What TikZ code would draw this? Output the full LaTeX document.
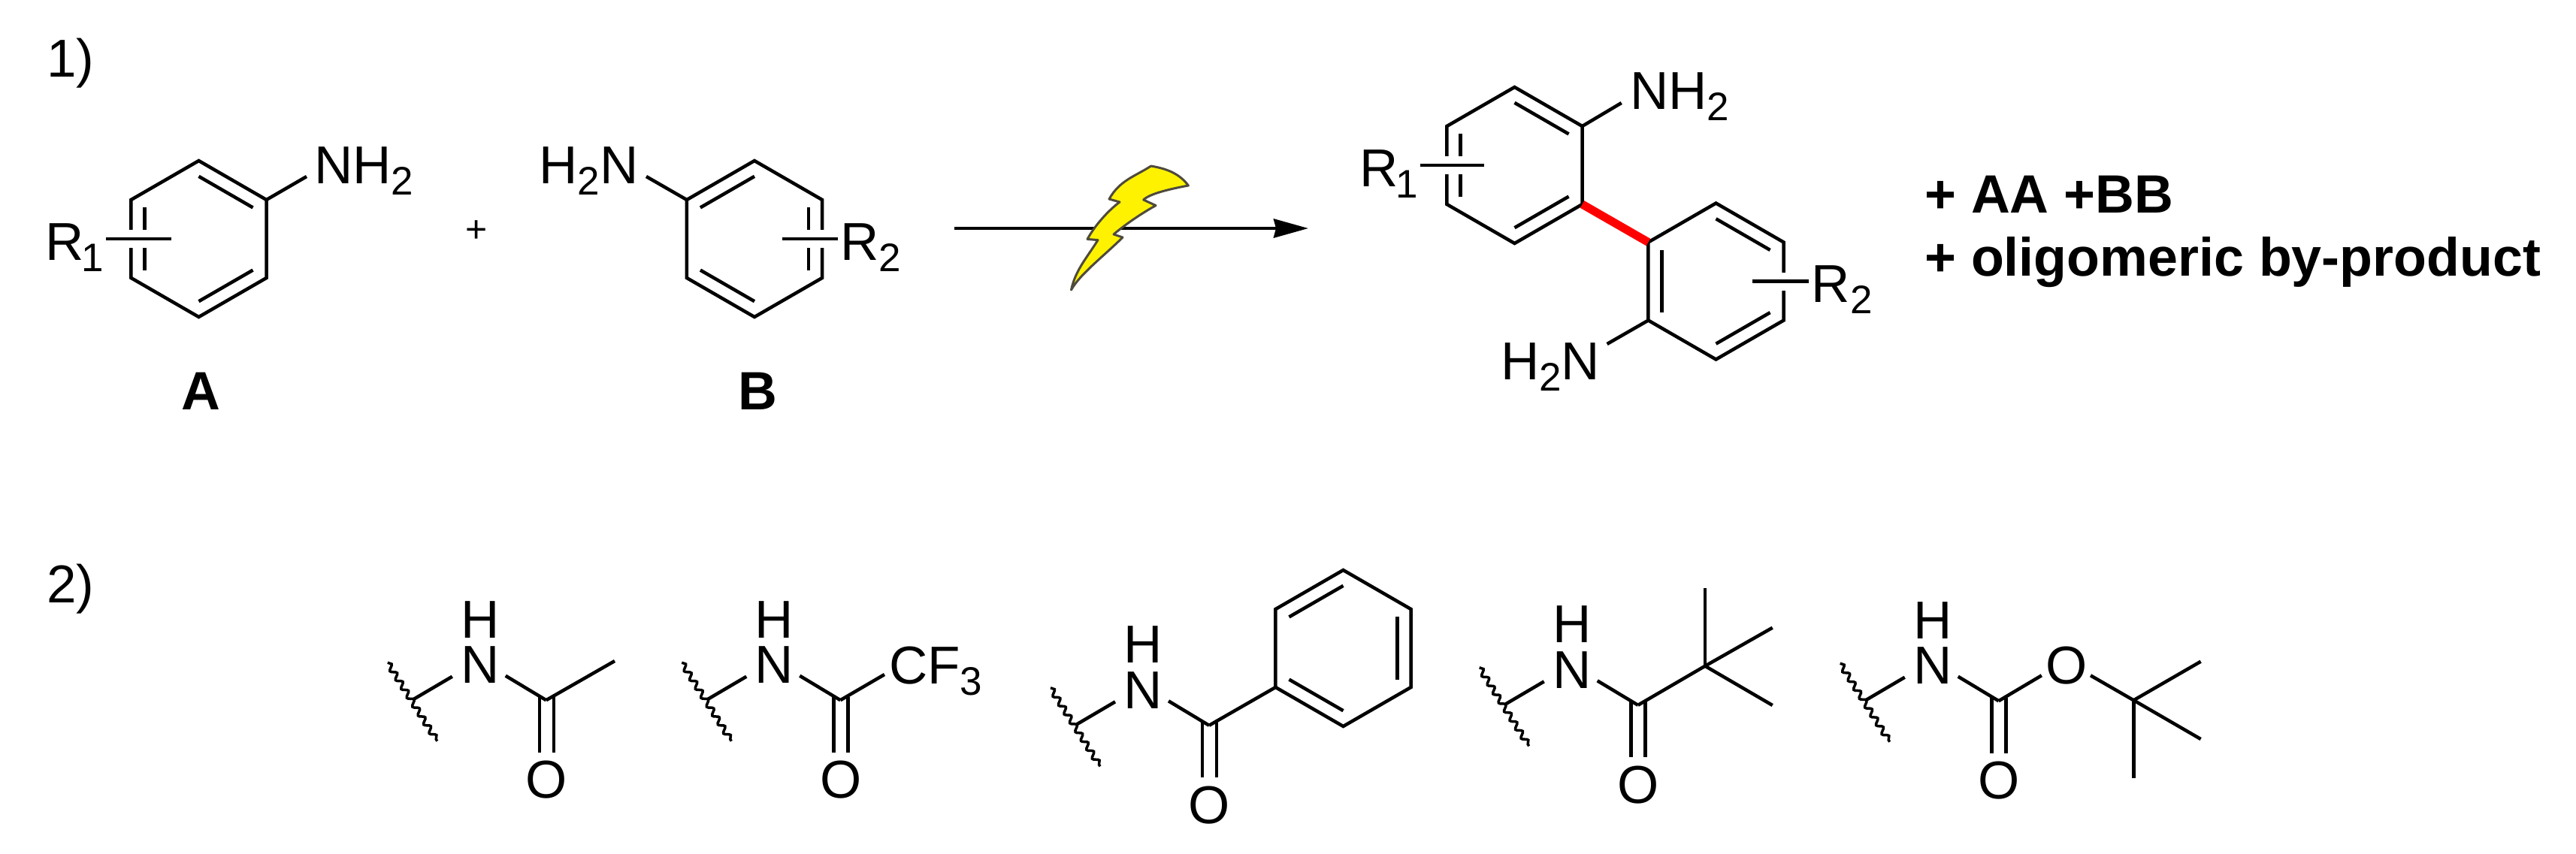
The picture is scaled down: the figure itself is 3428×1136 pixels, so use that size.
\documentclass[tikz,border=0pt]{standalone}
\usepackage{fontspec}
\setmainfont{Liberation Sans}
\usetikzlibrary{calc,arrows.meta,decorations.pathmorphing}
\newcommand{\sbs}[1]{\raisebox{-15pt}{\fontsize{53}{60}\selectfont #1}}
\begin{document}
\begin{tikzpicture}[x=1pt,y=-1pt]
        \tikzset{bond/.style={draw,line width=4.5pt},
            thickbond/.style={draw=red,line width=11pt},
            halo/.style={draw=white,line width=24pt},
            atom/.style={inner sep=0pt,anchor=base west,font=\fontsize{71}{80}\selectfont},
            midatom/.style={atom,anchor=base},
            stackatom/.style={atom,anchor=south,align=center,font=\fontsize{71}{60.5}\selectfont},
            boldtext/.style={atom,font=\fontsize{71.8}{80}\selectfont\bfseries},
            benzene/.pic={
                \foreach \i in {1,...,6}
                    \coordinate (\i) at ({60*\i-150}:104);
                \coordinate (-c) at (0,0);
                \draw[bond] (1) -- (2) -- (3) -- (4) -- (5) -- (6) -- cycle;
            },
            amide/.pic={
                \coordinate (-j) at (0,0);
                \coordinate (-w1) at (-35,-48.5);
                \coordinate (-w2) at (31,56);
                \coordinate (-b1) at (51,-30);
                \coordinate (-b2) at (122,-31);
                \coordinate (-c) at (176,1.5);
                \draw[line width=3.5pt,decorate,decoration={snake,segment length=14pt,amplitude=3.5pt}] (-w1) -- (-w2);
                \node[stackatom] (-n) at (88,-21) {H\\N};
                \node[midatom] (-o) at (176.5,132) {O};
                \draw[bond] (-j) -- (-b1);
                \draw[bond] (-b2) -- (-c);
                \draw[bond] (167,-3) -- (167,71);
                \draw[bond] (186,-3) -- (186,71);
            }}
        \useasboundingbox (0,0) rectangle (3428,1136);
        \node[atom] (one) at (62,102.5) {1)};
        \node[atom] (two) at (62,802) {2)};
        % reactant A
        \pic (a) at (264.5,318) {benzene};
        \draw[bond] ($(a-c)!.8!(a1)$) -- ($(a-c)!.8!(a2)$);
        \draw[bond] ($(a-c)!.8!(a3)$) -- ($(a-c)!.8!(a4)$);
        \draw[bond] ($(a-c)!.8!(a5)$) -- ($(a-c)!.8!(a6)$);
        \node[atom] (nhA) at (418,244) {NH\sbs{2}};
        \coordinate (nhAe) at (408,235);
        \draw[bond] (a2) -- (nhAe);
        \node[atom] (rA) at (60.5,346) {R\kern-3pt\sbs{1}};
        \coordinate (rAs) at (141,318);
        \coordinate (rAe) at (228,318);
        \draw[halo] (168,318) -- (200,318);
        \draw[bond] (rAs) -- (rAe);
        \node[midatom,font=\fontsize{50}{60}\selectfont] (plus) at (634,322) {+};
        \node[boldtext,anchor=base] (lblA) at (267,545) {A};
        % reactant B
        \pic (b) at (1004,318) {benzene};
        \draw[bond] ($(b-c)!.8!(b1)$) -- ($(b-c)!.8!(b6)$);
        \draw[bond] ($(b-c)!.8!(b4)$) -- ($(b-c)!.8!(b5)$);
        \draw[bond] ($(b-c)!.8!(b2)$) -- ($(b-c)!.8!(b3)$);
        \node[atom] (nhB) at (717.5,244) {H\sbs{2}N};
        \coordinate (nhBe) at (860,235);
        \draw[bond] (b6) -- (nhBe);
        \node[atom] (rB) at (1118.5,346) {R\sbs{2}};
        \coordinate (rBs) at (1041,318);
        \coordinate (rBe) at (1115,318);
        \draw[halo] (1068,318) -- (1100,318);
        \draw[bond] (rBs) -- (rBe);
        \node[boldtext,anchor=base] (lblB) at (1008,545) {B};
        % arrow with flash
        \coordinate (arrowL) at (1270,304);
        \coordinate (arrowR) at (1741,304);
        \draw[line width=4.5pt,-{Stealth[length=46pt,width=25pt,inset=3pt]}] (arrowL) -- (arrowR);
        \draw[draw=black!80!yellow,fill=yellow,line width=3pt,line join=round]
            (1531.7,221) .. controls (1555,225) and (1570,232) .. (1581.4,247)
            .. controls (1555,252) and (1530,258) .. (1521.7,266)
            -- (1538,273.6) .. controls (1512,288) and (1490,305) .. (1482,312)
            -- (1494,316) .. controls (1470,340) and (1437,365) .. (1425.5,386)
            .. controls (1431,360) and (1445,345) .. (1461,319.6)
            -- (1447,318.4) .. controls (1457,300) and (1475,280) .. (1490,269)
            -- (1476,265) .. controls (1490,240) and (1510,235) .. cycle;
        % product
        \pic (p) at (2015.5,220) {benzene};
        \pic (q) at (2283.5,374.5) {benzene};
        \draw[bond] ($(p-c)!.8!(p1)$) -- ($(p-c)!.8!(p2)$);
        \draw[bond] ($(p-c)!.8!(p3)$) -- ($(p-c)!.8!(p4)$);
        \draw[bond] ($(p-c)!.8!(p5)$) -- ($(p-c)!.8!(p6)$);
        \draw[bond] ($(q-c)!.8!(q1)$) -- ($(q-c)!.8!(q2)$);
        \draw[bond] ($(q-c)!.8!(q3)$) -- ($(q-c)!.8!(q4)$);
        \draw[bond] ($(q-c)!.8!(q5)$) -- ($(q-c)!.8!(q6)$);
        \draw[thickbond] (p3) -- (q6);
        \node[atom] (nhP) at (2169,145.5) {NH\sbs{2}};
        \coordinate (nhPe) at (2157.7,137);
        \draw[bond] (p2) -- (nhPe);
        \node[atom] (nhQ) at (1997,505) {H\sbs{2}N};
        \coordinate (nhQe) at (2138.6,458);
        \draw[bond] (q5) -- (nhQe);
        \node[atom] (rP) at (1809.5,248.8) {R\kern-3pt\sbs{1}};
        \coordinate (rPs) at (1890,220);
        \coordinate (rPe) at (1975,220);
        \draw[halo] (1920,220) -- (1952,220);
        \draw[bond] (rPs) -- (rPe);
        \node[atom] (rQ) at (2410.5,402) {R\sbs{2}};
        \coordinate (rQs) at (2332,374.5);
        \coordinate (rQe) at (2406.5,374.5);
        \draw[halo] (2366,374.5) -- (2380,374.5);
        \draw[bond] (rQs) -- (rQe);
        \node[boldtext] (extraA) at (2561,283) {+ AA +BB};
        \node[boldtext] (extraB) at (2561,367) {+ oligomeric by-product};
        % protecting groups
        \pic (acA) at (550.8,930.7) {amide};
        \coordinate (meA) at (818,880);
        \draw[bond] (acA-c) -- (meA);
        \pic (acB) at (942.3,930.7) {amide};
        \coordinate (cfB) at (1177,898);
        \draw[bond] (acB-c) -- (cfB);
        \node[atom] (cf) at (1183,910) {CF\sbs{3}};
        \pic (acC) at (1433,964.3) {amide};
        \pic (r) at (1787.5,863) {benzene};
        \draw[bond] (acC-c) -- (r5);
        \draw[bond] ($(r-c)!.8!(r5)$) -- ($(r-c)!.8!(r4)$);
        \draw[bond] ($(r-c)!.8!(r6)$) -- ($(r-c)!.8!(r1)$);
        \draw[bond] ($(r-c)!.8!(r2)$) -- ($(r-c)!.8!(r3)$);
        \pic (acD) at (2003.7,937.3) {amide};
        \coordinate (tbD) at (2269,886.7);
        \coordinate (tbD1) at (2269,782.7);
        \coordinate (tbD2) at (2358.7,835.7);
        \coordinate (tbD3) at (2358.7,939);
        \draw[bond] (acD-c) -- (tbD);
        \foreach \i in {1,2,3}
            \draw[bond] (tbD) -- (tbD\i);
        \pic (acE) at (2483.7,931.7) {amide};
        \node[midatom] (oE) at (2750,910) {O};
        \coordinate (oEa) at (2716.8,899.3);
        \coordinate (oEb) at (2782,899.3);
        \coordinate (tbE) at (2839.3,932.3);
        \coordinate (tbE1) at (2928.6,880.7);
        \coordinate (tbE2) at (2928.6,984);
        \coordinate (tbE3) at (2839.3,1035.7);
        \draw[bond] (acE-c) -- (oEa);
        \draw[bond] (oEb) -- (tbE);
        \foreach \i in {1,2,3}
            \draw[bond] (tbE) -- (tbE\i);
\end{tikzpicture}
\end{document}
